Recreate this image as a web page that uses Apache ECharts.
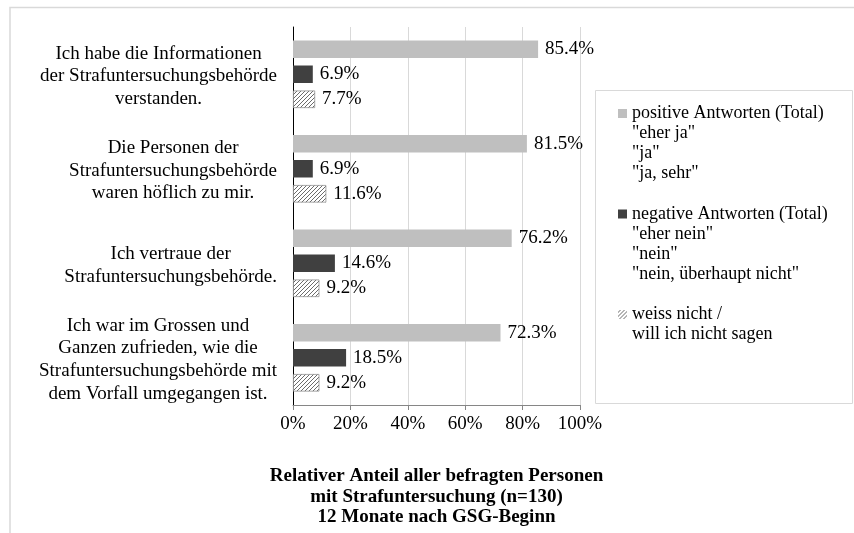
<!DOCTYPE html>
<html>
<head>
<meta charset="utf-8">
<script src="https://cdn.jsdelivr.net/npm/echarts@6/dist/echarts.min.js"></script>
<style>
  html, body { margin: 0; padding: 0; background: #fff; }
  #main { width: 854px; height: 533px; }
</style>
</head>
<body>
<div id="main"></div>
<script>
// Aussagen (Kategorien), von oben nach unten
var categories = [
  'Ich habe die Informationen\nder Strafuntersuchungsbehörde\nverstanden.',
  'Die Personen der\nStrafuntersuchungsbehörde\nwaren höflich zu mir.',
  'Ich vertraue der\nStrafuntersuchungsbehörde.',
  'Ich war im Grossen und\nGanzen zufrieden, wie die\nStrafuntersuchungsbehörde mit\ndem Vorfall umgegangen ist.'
]
var seriesNames = ['positive', 'negative', 'weiss nicht']
// jede Legende auf 4 Zeilen, damit das Symbol bei der ersten Zeile steht
var legendLabels = [
  'positive Antworten (Total)\n"eher ja"\n"ja"\n"ja, sehr"',
  'negative Antworten (Total)\n"eher nein"\n"nein"\n"nein, überhaupt nicht"',
  'weiss nicht /\nwill ich nicht sagen\n \n '
]
// Anteile in %
var positive = [85.4, 81.5, 76.2, 72.3]
var negative = [6.9, 6.9, 14.6, 18.5]
var unknown = [7.7, 11.6, 9.2, 9.2]

var FONT = '"Liberation Serif", "Times New Roman", serif'

// Schraffur fuer "weiss nicht"
function hatch () {
  var c = document.createElement('canvas')
  c.width = 4
  c.height = 4
  var ctx = c.getContext('2d')
  ctx.fillStyle = '#fff'
  ctx.fillRect(0, 0, 4, 4)
  ctx.strokeStyle = '#6b6b6b'
  ctx.lineWidth = 1
  ctx.beginPath()
  ctx.moveTo(-1, 5); ctx.lineTo(5, -1)
  ctx.moveTo(-1, 1); ctx.lineTo(1, -1)
  ctx.moveTo(3, 5); ctx.lineTo(5, 3)
  ctx.stroke()
  return c
}

var myChart = echarts.init(document.getElementById('main'))

var labelStyle = {
  show: true,
  position: 'right',
  distance: 7,
  color: '#000',
  fontFamily: FONT,
  fontSize: 19,
  formatter: function (p) { return p.value.toFixed(1) + '%' }
}

function makeSeries (name, data, itemStyle) {
  return {
    name: name,
    type: 'bar',
    data: data,
    barWidth: 17.5,
    barGap: '43%',
    itemStyle: itemStyle,
    label: labelStyle
  }
}

var options = {
  animation: false,
  textStyle: { fontFamily: FONT },
  graphic: [
    {
      type: 'rect',
      z: -10,
      shape: { x: 10, y: 7.5, width: 900, height: 600 },
      style: { fill: 'none', stroke: '#d9d9d9', lineWidth: 1.5 }
    },
    {
      type: 'rect',
      z: -10,
      shape: { x: 595.5, y: 90.5, width: 257, height: 313 },
      style: { fill: 'none', stroke: '#d9d9d9', lineWidth: 1 }
    }
  ],
  legend: {
    orient: 'vertical',
    left: 618,
    top: 103.5,
    padding: 0,
    itemGap: 20.5,
    itemWidth: 9,
    itemHeight: 80,
    // Quadrat oben im 9x80-Feld
    icon: 'path://M0,0h9v0.01h-9zM0,5.5h9v9h-9zM0,79.99h9v0.01h-9z',
    itemStyle: { borderWidth: 0 },
    data: seriesNames,
    formatter: function (name) { return legendLabels[seriesNames.indexOf(name)] },
    textStyle: {
      color: '#000',
      fontFamily: FONT,
      fontSize: 18,
      lineHeight: 20
    }
  },
  grid: {
    left: 293,
    right: 274,
    top: 27,
    bottom: 128,
    containLabel: false
  },
  xAxis: {
    type: 'value',
    min: 0,
    max: 100,
    interval: 20,
    name: 'Relativer Anteil aller befragten Personen\nmit Strafuntersuchung (n=130)\n12 Monate nach GSG-Beginn',
    nameLocation: 'middle',
    nameGap: 61,
    nameTextStyle: {
      color: '#000',
      fontFamily: FONT,
      fontSize: 19,
      fontWeight: 'bold',
      lineHeight: 20.5
    },
    axisLine: { show: true, lineStyle: { color: '#868686' } },
    axisTick: { show: true, length: 5, lineStyle: { color: '#868686' } },
    axisLabel: {
      formatter: '{value}%',
      color: '#000',
      fontFamily: FONT,
      fontSize: 19,
      margin: 10
    },
    splitLine: { show: true, lineStyle: { color: '#d9d9d9' } }
  },
  yAxis: {
    type: 'category',
    inverse: true,
    data: categories,
    axisLine: { show: true, lineStyle: { color: '#000' } },
    axisTick: { show: false },
    axisLabel: {
      align: 'right',
      margin: 16,
      padding: [4, 0, 0, 0],
      formatter: function (v) {
        return v.split('\n').map(function (l) { return '{c|' + l + '}' }).join('\n')
      },
      rich: {
        c: { align: 'center', color: '#000', fontFamily: FONT, fontSize: 19, lineHeight: 22.7 }
      }
    }
  },
  series: [
    makeSeries(seriesNames[0], positive, { color: '#bfbfbf' }),
    makeSeries(seriesNames[1], negative, { color: '#404040' }),
    makeSeries(seriesNames[2], unknown, {
      color: { image: hatch(), repeat: 'repeat' },
      borderColor: '#8c8c8c',
      borderWidth: 0.75
    })
  ]
}

myChart.setOption(options)
</script>
</body>
</html>
